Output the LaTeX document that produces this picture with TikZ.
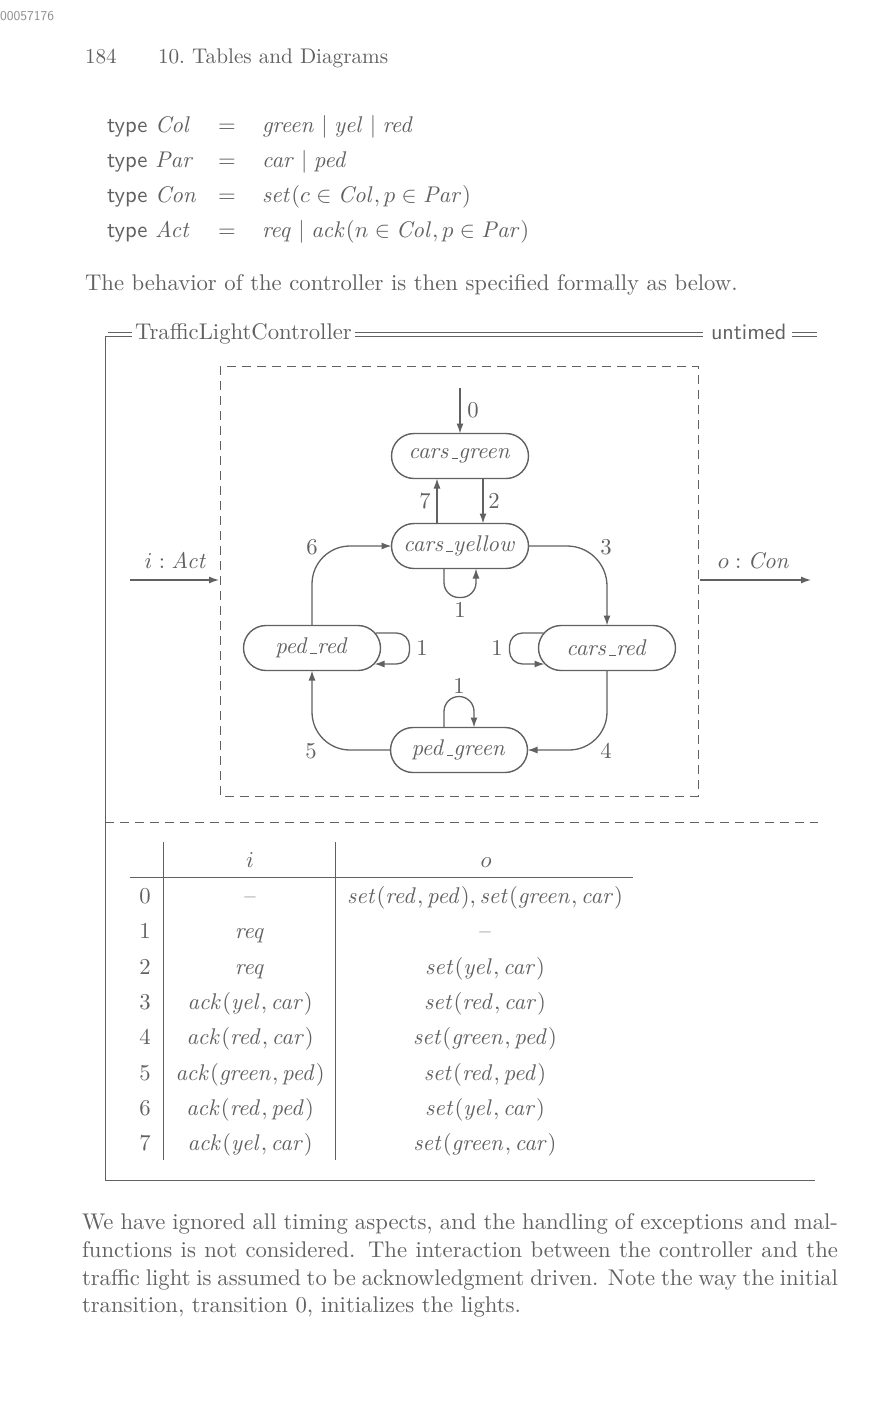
\documentclass[tikz,border=0pt]{standalone}
\usetikzlibrary{arrows.meta}
\begingroup
\fontencoding{OT1}\fontfamily{cmr}\fontseries{m}\fontshape{n}\selectfont
\fontshape{it}\selectfont
\fontencoding{OML}\fontfamily{cmm}\fontshape{it}\selectfont
\fontencoding{OMS}\fontfamily{cmsy}\fontshape{n}\selectfont
\fontencoding{TU}\fontfamily{lmr}\fontshape{n}\selectfont
\fontshape{it}\selectfont
\fontfamily{lmss}\fontshape{n}\selectfont
\endgroup
\DeclareFontShape{OT1}{cmr}{m}{n}{<-> cmr10}{}
\DeclareFontShape{OT1}{cmr}{m}{it}{<-> cmti10}{}
\DeclareFontShape{OML}{cmm}{m}{it}{<-> cmmi10}{}
\DeclareFontShape{OMS}{cmsy}{m}{n}{<-> cmsy10}{}
\DeclareFontShape{TU}{lmr}{m}{n}{<-> "[lmroman10-regular]:+tlig;"}{}
\DeclareFontShape{TU}{lmr}{m}{it}{<-> "[lmroman10-italic]:+tlig;"}{}
\DeclareFontShape{TU}{lmss}{m}{n}{<-> "[lmsans10-regular]:+tlig;"}{}
\definecolor{ink}{gray}{0.38}
\definecolor{faint}{gray}{0.55}
\newcommand{\mi}[1]{\mathit{#1}}
\newcommand{\usc}{\kern.06em\vbox{\hrule height 0.9pt width 0.3em}}
\begin{document}
\begin{tikzpicture}[x=1pt,y=-1pt,
  every node/.style={text=ink, inner sep=0pt, outer sep=0pt},
  fnt/.style={font=\fontsize{22.7}{28}\selectfont},
  txt/.style={fnt, yshift=-5pt},
  headtxt/.style={font=\fontsize{21.2}{26}\selectfont, yshift=-5pt},
  sanstxt/.style={font=\sffamily\fontsize{22.2}{28}\selectfont},
  state/.style={draw=ink, line width=1.4pt, rounded corners=22.5pt,
    minimum width=137pt, minimum height=45pt, fnt},
  arr/.style={draw=ink, line width=1.3pt, -{Latex[length=10pt,width=7pt]}},
  lab/.style={txt},
  dashline/.style={draw=ink, line width=1pt, dash pattern=on 9pt off 6pt},
  rule/.style={draw=ink, line width=0.9pt},
  dbl/.style={draw=ink, line width=0.7pt}]
\fill[white] (0,0) rectangle (891,1413);
\useasboundingbox (0,0) rectangle (891,1413);

% page head
\node[font=\sffamily\fontsize{13.5}{15}\selectfont, text=faint, anchor=mid west] (id) at (0,18) {00057176};
\node[headtxt, anchor=mid west] (pagenum) at (85,56) {184};
\node[headtxt, anchor=mid west] (chap) at (158,56) {10.\ Tables and Diagrams};

% type definitions
\node[txt, anchor=mid west] (t1) at (107,125) {\textsf{type} $\mi{Col}$};
\node[txt, anchor=mid west] (t2) at (107,160) {\textsf{type} $\mi{Par}$};
\node[txt, anchor=mid west] (t3) at (107,195) {\textsf{type} $\mi{Con}$};
\node[txt, anchor=mid west] (t4) at (107,230) {\textsf{type} $\mi{Act}$};
\node[txt, anchor=mid] (e1) at (227,125) {$=$};
\node[txt, anchor=mid] (e2) at (227,160) {$=$};
\node[txt, anchor=mid] (e3) at (227,195) {$=$};
\node[txt, anchor=mid] (e4) at (227,230) {$=$};
\node[txt, anchor=mid west] (r1) at (262,125) {$\mi{green}\mid\mi{yel}\mid\mi{red}$};
\node[txt, anchor=mid west] (r2) at (262,160) {$\mi{car}\mid\mi{ped}$};
\node[txt, anchor=mid west] (r3) at (262,195) {$\mi{set}(c\in\mi{Col},p\in\mi{Par})$};
\node[txt, anchor=mid west] (r4) at (262,230) {$\mi{req}\mid\mi{ack}(n\in\mi{Col},p\in\mi{Par})$};

\node[txt, anchor=mid west] (intro) at (85,283) {The behavior of the controller is then specified formally as below.};

% schema frame
\node[fnt, anchor=base west] (title) at (135,339) {TrafficLightController};
\node[sanstxt, anchor=base west] (untimed) at (711,339) {untimed};
\coordinate (fl) at (105,336);
\coordinate (fb) at (105,1180);
\coordinate (fr) at (815,1180);
\draw[rule] (fl) -- (fb) -- (fr);
\draw[dbl] (105,336) -- (132,336) (108,332) -- (132,332);
\draw[dbl] ([shift={(3,-3)}]title.base east) -- ([shift={(-8,-3)}]untimed.base west)
           ([shift={(3,-7)}]title.base east) -- ([shift={(-8,-7)}]untimed.base west);
\draw[dbl] ([shift={(6,-3)}]untimed.base east) -- (817,336)
           ([shift={(6,-7)}]untimed.base east) -- (817,332);
\draw[dashline] (105,822) -- (818,822);

% inner box
\draw[dashline] (220,366) rectangle (698,796);
\coordinate (inS) at (130,580);
\coordinate (inE) at (219,580);
\coordinate (outS) at (700,580);
\coordinate (outE) at (811,580);
\draw[arr] (inS) -- (inE);
\draw[arr] (outS) -- (outE);
\node[txt, anchor=mid] (ilab) at (176,561) {$i:\mi{Act}$};
\node[txt, anchor=mid] (olab) at (754,561) {$o:\mi{Con}$};

% states
\node[state] (cg) at (460,456) {$\mi{cars}\usc\mi{green}$};
\node[state] (cy) at (460,546) {$\mi{cars}\usc\mi{yellow}$};
\node[state] (pr) at (312,648) {$\mi{ped}\usc\mi{red}$};
\node[state] (cr) at (607,648) {$\mi{cars}\usc\mi{red}$};
\node[state] (pgr) at (459,750) {$\mi{ped}\usc\mi{green}$};

% transitions
\coordinate (c0) at (460,388);
\draw[arr] (c0) -- (cg.north);
\node[lab, anchor=mid] (l0) at (473,410) {0};
\draw[arr] ([shift={(23,0)}]cg.south) -- ([shift={(23,0)}]cy.north);
\node[lab, anchor=mid] (l2) at (494,501) {2};
\draw[arr] ([shift={(-23,0)}]cy.north) -- ([shift={(-23,0)}]cg.south);
\node[lab, anchor=mid] (l7) at (425,501) {7};
\draw[arr, rounded corners=15pt] ([shift={(-16,0)}]cy.south) -- ([shift={(-16,29)}]cy.south)
   -- ([shift={(16,29)}]cy.south) -- ([shift={(16,0)}]cy.south);
\node[lab, anchor=mid] (l1a) at (460,610) {1};
\draw[arr, rounded corners=40pt] (cy.east) -| (cr.north);
\node[lab, anchor=mid] (l3) at (606,547) {3};
\draw[arr, rounded corners=38pt] (cr.south) |- (pgr.east);
\node[lab, anchor=mid] (l4) at (606,751) {4};
\draw[arr, rounded corners=38pt] (pgr.west) -| (pr.south);
\node[lab, anchor=mid] (l5) at (311,751) {5};
\draw[arr, rounded corners=38pt] (pr.north) |- (cy.west);
\node[lab, anchor=mid] (l6) at (312,547) {6};
\draw[arr, rounded corners=13pt] ([shift={(-5,-15)}]pr.east) -- ([shift={(29,-15)}]pr.east)
   -- ([shift={(29,16)}]pr.east) -- ([shift={(-6,16)}]pr.east);
\node[lab, anchor=mid] (l1b) at (422,648) {1};
\draw[arr, rounded corners=13pt] ([shift={(5,-15)}]cr.west) -- ([shift={(-29,-15)}]cr.west)
   -- ([shift={(-29,16)}]cr.west) -- ([shift={(6,16)}]cr.west);
\node[lab, anchor=mid] (l1c) at (497,648) {1};
\draw[arr, rounded corners=15pt] ([shift={(-15,0)}]pgr.north) -- ([shift={(-15,-31)}]pgr.north)
   -- ([shift={(15,-31)}]pgr.north) -- ([shift={(15,0)}]pgr.north);
\node[lab, anchor=mid] (l1d) at (459,686) {1};

% table
\draw[rule] (163,842) -- (163,1160);
\draw[rule] (335,842) -- (335,1160);
\draw[rule] (130,877) -- (633,877);
\node[txt, anchor=mid] (hi) at (250,860) {$i$};
\node[txt, anchor=mid] (ho) at (486,860) {$o$};
\node[txt, anchor=mid] (n0) at (145,896) {0};
\node[txt, anchor=mid] (a0) at (250,896) {\textendash};
\node[txt, anchor=mid] (b0) at (485,896) {$\mi{set}(\mi{red},\mi{ped}),\mi{set}(\mi{green},\mi{car})$};
\node[txt, anchor=mid] (n1) at (145,931) {1};
\node[txt, anchor=mid] (a1) at (250,931) {$\mi{req}$};
\node[txt, anchor=mid] (b1) at (485,931) {\textendash};
\node[txt, anchor=mid] (n2) at (145,967) {2};
\node[txt, anchor=mid] (a2) at (250,967) {$\mi{req}$};
\node[txt, anchor=mid] (b2) at (485,967) {$\mi{set}(\mi{yel},\mi{car})$};
\node[txt, anchor=mid] (n3) at (145,1002) {3};
\node[txt, anchor=mid] (a3) at (250,1002) {$\mi{ack}(\mi{yel},\mi{car})$};
\node[txt, anchor=mid] (b3) at (485,1002) {$\mi{set}(\mi{red},\mi{car})$};
\node[txt, anchor=mid] (n4) at (145,1037) {4};
\node[txt, anchor=mid] (a4) at (250,1037) {$\mi{ack}(\mi{red},\mi{car})$};
\node[txt, anchor=mid] (b4) at (485,1037) {$\mi{set}(\mi{green},\mi{ped})$};
\node[txt, anchor=mid] (n5) at (145,1073) {5};
\node[txt, anchor=mid] (a5) at (250,1073) {$\mi{ack}(\mi{green},\mi{ped})$};
\node[txt, anchor=mid] (b5) at (485,1073) {$\mi{set}(\mi{red},\mi{ped})$};
\node[txt, anchor=mid] (n6) at (145,1108) {6};
\node[txt, anchor=mid] (a6) at (250,1108) {$\mi{ack}(\mi{red},\mi{ped})$};
\node[txt, anchor=mid] (b6) at (485,1108) {$\mi{set}(\mi{yel},\mi{car})$};
\node[txt, anchor=mid] (n7) at (145,1143) {7};
\node[txt, anchor=mid] (a7) at (250,1143) {$\mi{ack}(\mi{yel},\mi{car})$};
\node[txt, anchor=mid] (b7) at (485,1143) {$\mi{set}(\mi{green},\mi{car})$};

% closing paragraph
\node[txt, anchor=mid west] (p1) at (82,1222) {\makebox[756pt][s]{We have ignored all timing aspects, and the handling of exceptions and mal-}};
\node[txt, anchor=mid west] (p2) at (82,1250) {\makebox[756pt][s]{functions is not considered. The interaction between the controller and the}};
\node[txt, anchor=mid west] (p3) at (82,1278) {\makebox[756pt][s]{traffic light is assumed to be acknowledgment driven. Note the way the initial}};
\node[txt, anchor=mid west] (p4) at (82,1305) {transition, transition 0, initializes the lights.};
\end{tikzpicture}
\end{document}
